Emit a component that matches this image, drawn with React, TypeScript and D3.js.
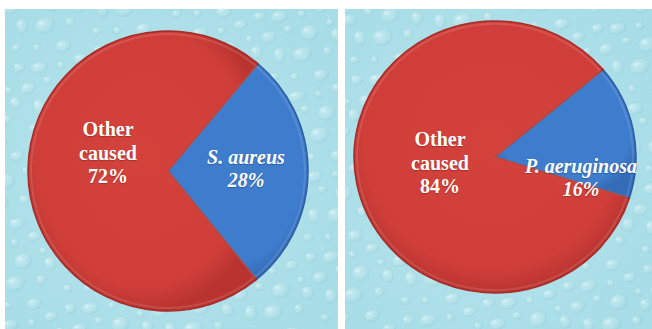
import React from 'react';
import * as d3 from 'd3';

// chart data
const leftCategories = ['S. aureus', 'Other caused'];
const leftValues = [28, 72];
const rightCategories = ['P. aeruginosa', 'Other caused'];
const rightValues = [16, 84];

const W = 652;
const H = 329;

// layout for each panel (background box, pie centre, radius, start angle, label nudges)
const panels = [
  {
    key: 'a',
    box: { x: 5, y: 9, w: 333, h: 320 },
    cx: 168, cy: 171, r: 140, sy: 1,
    start: 40,
    categories: leftCategories,
    values: leftValues,
    labelOffsets: [[78, -2], [-60, -18]],
  },
  {
    key: 'b',
    box: { x: 345, y: 9, w: 307, h: 320 },
    cx: 495, cy: 157, r: 141, sy: 0.965,
    start: 50,
    categories: rightCategories,
    values: rightValues,
    labelOffsets: [[86, 21], [-55, 6]],
  },
];

const sliceFill = ['url(#blueGrad)', 'url(#redGrad)'];
const sliceStroke = ['#2c5f9f', '#a52c28'];

// water drops for the texture tile: x, y, rx, ry
const drops = [
  [9, 10, 8, 6], [30, 6, 5, 4], [50, 14, 9, 8], [16, 30, 6, 8], [38, 34, 10, 8],
  [64, 36, 5, 5], [6, 50, 5, 4], [26, 54, 4, 4], [52, 58, 8, 6], [72, 8, 4, 4],
  [76, 22, 6, 7], [4, 70, 7, 5], [24, 74, 9, 6], [46, 76, 4, 4], [66, 74, 7, 5],
];

const App: React.FC = () => {
  return (
    <svg
      width={W}
      height={H}
      viewBox={`0 0 ${W} ${H}`}
      style={{ position: 'absolute', left: 0, top: 0, background: '#fff' }}
    >
      <defs>
        <radialGradient id="dropGrad" cx="0.4" cy="0.35" r="0.7">
          <stop offset="0%" stopColor="#d6f2f6" />
          <stop offset="65%" stopColor="#b9e4ec" />
          <stop offset="100%" stopColor="#93cfdb" />
        </radialGradient>
        <pattern id="drops" patternUnits="userSpaceOnUse" width={82} height={82} patternTransform="rotate(-12)">
          <rect width={82} height={82} fill="#ade0e9" />
          {drops.map(([x, y, rx, ry], i) => (
            <g key={i}>
              <ellipse cx={x} cy={y} rx={rx} ry={ry} fill="url(#dropGrad)" stroke="#95cfdb" strokeWidth={0.5} opacity={0.7} />
              <ellipse cx={x - rx * 0.3} cy={y - ry * 0.4} rx={rx * 0.3} ry={ry * 0.2} fill="#eefafc" opacity={0.55} />
            </g>
          ))}
        </pattern>
        <radialGradient id="panelLight" cx="0.45" cy="0.5" r="0.7">
          <stop offset="0%" stopColor="#ffffff" stopOpacity={0.22} />
          <stop offset="100%" stopColor="#7cc8d8" stopOpacity={0.12} />
        </radialGradient>
        <radialGradient id="redGrad" cx="0.5" cy="0.45" r="0.55">
          <stop offset="0%" stopColor="#d4423c" />
          <stop offset="85%" stopColor="#cf3e39" />
          <stop offset="100%" stopColor="#b93430" />
        </radialGradient>
        <radialGradient id="blueGrad" cx="0.5" cy="0.45" r="0.55">
          <stop offset="0%" stopColor="#3f7ccc" />
          <stop offset="85%" stopColor="#3e7ccd" />
          <stop offset="100%" stopColor="#346cb8" />
        </radialGradient>
      </defs>

      {panels.map(p => {
        const a0 = (p.start * Math.PI) / 180;
        const pie = d3.pie<number>().sort(null).value(d => d).startAngle(a0).endAngle(a0 + 2 * Math.PI);
        const arcs = pie(p.values);
        const arc = d3.arc<d3.PieArcDatum<number>>().innerRadius(0).outerRadius(p.r);
        const bevel = d3.arc<d3.PieArcDatum<number>>().innerRadius(0).outerRadius(p.r - 3);
        return (
          <g key={p.key}>
            <rect x={p.box.x} y={p.box.y} width={p.box.w} height={p.box.h} fill="url(#drops)" />
            <rect x={p.box.x} y={p.box.y} width={p.box.w} height={p.box.h} fill="url(#panelLight)" />
            <g transform={`translate(${p.cx},${p.cy}) scale(1,${p.sy})`}>
              {arcs.map((a, i) => (
                <g key={i}>
                  <path d={arc(a) || ''} fill={sliceFill[i]} stroke={sliceStroke[i]} strokeWidth={1.5} />
                  <path d={bevel(a) || ''} fill="none" stroke="#ffffff" strokeOpacity={0.12} strokeWidth={2} />
                </g>
              ))}
            </g>
            {arcs.map((a, i) => {
              const name = p.categories[i];
              const italic = i === 0;
              const lines = italic
                ? [name, `${p.values[i]}%`]
                : [...name.split(' '), `${p.values[i]}%`];
              const [dx, dy] = p.labelOffsets[i];
              const lx = p.cx + dx;
              const ly = p.cy + dy;
              return (
                <text
                  key={`t${i}`}
                  x={lx}
                  textAnchor="middle"
                  fill="#ffffff"
                  fontFamily="'Liberation Serif', 'Times New Roman', serif"
                  fontWeight="bold"
                  fontStyle={italic ? 'italic' : 'normal'}
                  fontSize={20}
                  style={{ textShadow: '0 1px 1px rgba(0,0,0,0.25)' }}
                >
                  {lines.map((l, j) => (
                    <tspan key={j} x={lx} y={ly + (j - (lines.length - 1) / 2) * 23.5 + 6.5}>
                      {l}
                    </tspan>
                  ))}
                </text>
              );
            })}
          </g>
        );
      })}
    </svg>
  );
};

export default App;
